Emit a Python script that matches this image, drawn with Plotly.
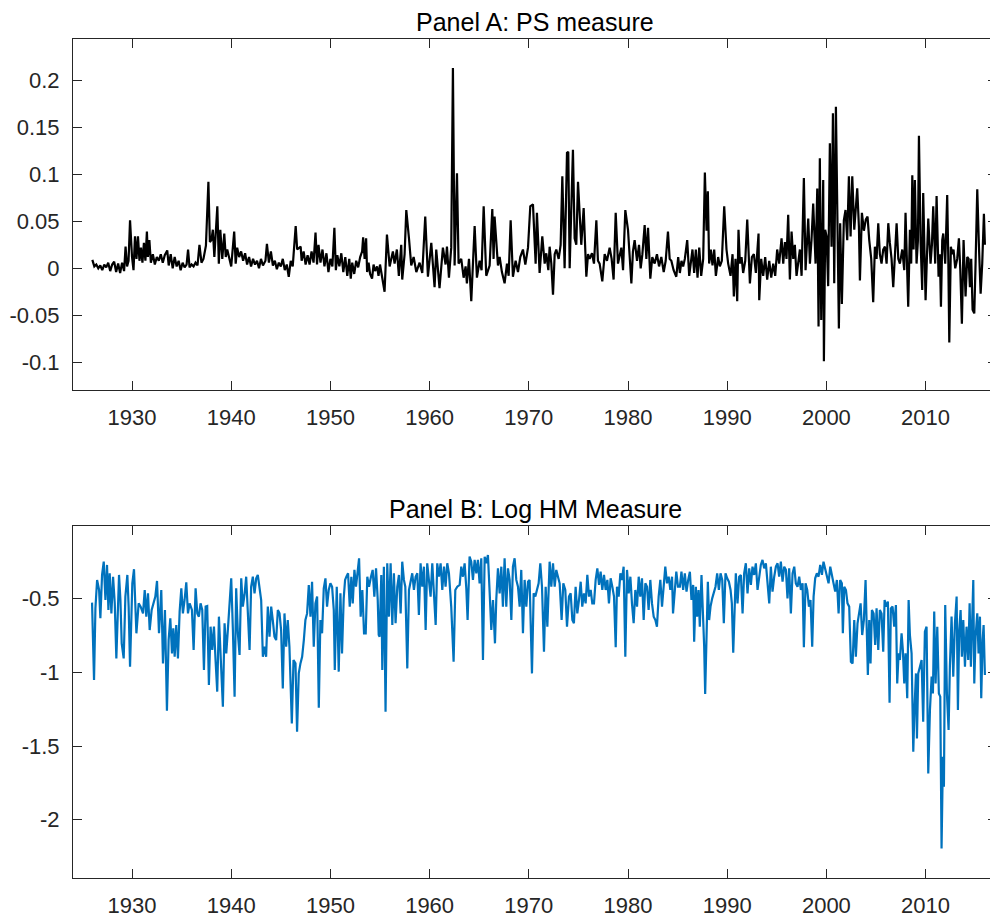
import plotly.graph_objects as go

# ---------------- Panel A: PS measure (year, value) ----------------
ps_years = [
 1926.0,1926.2,1926.4,1926.6,1926.8,1927.0,1927.2,1927.4,1927.6,1927.8,1928.0,1928.2,1928.4,1928.6,1928.8,1929.0,1929.2,1929.35,1929.5,1929.65,
 1929.8,1930.0,1930.15,1930.3,1930.45,1930.6,1930.75,1930.9,1931.05,1931.2,1931.35,1931.5,1931.6,1931.75,1931.9,1932.1,1932.3,1932.5,1932.7,1932.9,
 1933.1,1933.3,1933.55,1933.7,1933.9,1934.1,1934.3,1934.5,1934.7,1934.9,1935.1,1935.3,1935.5,1935.65,1935.8,1936.0,1936.2,1936.4,1936.6,1936.8,
 1937.0,1937.2,1937.45,1937.7,1937.85,1938.0,1938.15,1938.3,1938.6,1938.75,1938.9,1939.1,1939.3,1939.45,1939.6,1939.8,1940.0,1940.3,1940.45,1940.6,
 1940.8,1941.0,1941.2,1941.4,1941.6,1941.8,1942.0,1942.2,1942.4,1942.6,1942.8,1943.0,1943.2,1943.45,1943.6,1943.8,1944.0,1944.2,1944.4,1944.6,
 1944.8,1945.0,1945.2,1945.4,1945.6,1945.8,1946.0,1946.2,1946.5,1946.65,1947.0,1947.1,1947.3,1947.5,1947.7,1947.9,1948.1,1948.3,1948.5,1948.65,
 1948.8,1949.0,1949.2,1949.4,1949.6,1949.8,1950.0,1950.2,1950.4,1950.55,1950.7,1950.9,1951.1,1951.3,1951.5,1951.7,1951.9,1952.05,1952.2,1952.4,
 1952.6,1952.8,1953.0,1953.2,1953.3,1953.45,1953.6,1953.7,1953.85,1954.0,1954.2,1954.35,1954.5,1954.7,1954.85,1955.0,
 1955.46,1955.70,1955.97,1956.30,1956.47,1956.70,1956.90,1957.14,1957.24,1957.48,1957.65,1957.92,1958.15,1958.39,1958.66,1958.99,1959.26,1959.56,1959.83,1960.17,
 1960.50,1960.67,1961.00,1961.34,1961.61,1961.75,1961.95,1962.18,1962.35,1962.52,1962.76,1962.92,1963.19,1963.43,1963.63,1963.76,1963.97,1964.20,1964.37,1964.54,
 1964.77,1965.04,1965.24,1965.45,1965.71,1966.05,1966.32,1966.45,1966.55,1966.72,1966.89,1967.06,1967.29,1967.56,1967.80,1967.97,1968.17,1968.40,1968.67,1968.91,
 1969.14,1969.41,1969.65,1969.92,1970.15,1970.42,1970.69,1970.82,1971.09,1971.36,1971.60,1971.76,1971.97,1972.10,1972.27,1972.44,1972.61,1972.77,1973.01,1973.21,
 1973.38,1973.61,1973.85,1973.98,1974.12,1974.29,1974.45,1974.62,1974.79,1974.96,1975.13,1975.29,1975.53,1975.80,1975.97,1976.13,1976.37,1976.57,1976.81,1976.97,
 1977.14,1977.41,1977.65,1977.88,1978.15,1978.35,1978.55,1978.76,1978.99,1979.16,1979.33,1979.50,1979.73,1980.00,1980.17,1980.34,1980.50,1980.67,1980.91,1981.11,
 1981.28,1981.45,1981.68,1981.85,1982.02,1982.25,1982.45,1982.69,1982.92,1983.13,1983.36,1983.60,1983.80,1984.03,1984.20,1984.37,1984.60,1984.87,
 1985.06,1985.23,1985.39,1985.56,1985.73,1985.97,1986.17,1986.34,1986.50,1986.67,1986.84,1987.01,1987.18,1987.38,1987.58,1987.75,1987.92,1988.05,1988.18,1988.35,
 1988.52,1988.69,1988.86,1989.09,1989.26,1989.46,1989.70,1989.93,1990.10,1990.34,1990.54,1990.67,1990.84,1991.01,1991.14,1991.28,1991.45,1991.61,1991.82,1992.02,
 1992.15,1992.29,1992.49,1992.69,1992.89,1993.03,1993.16,1993.23,1993.43,1993.63,1993.83,1994.03,1994.24,1994.44,1994.64,1994.84,1995.04,1995.24,1995.48,1995.65,
 1995.82,1995.98,1996.15,1996.32,1996.49,1996.66,1996.82,1996.99,1997.16,1997.33,1997.50,1997.73,1997.90,1998.03,1998.17,1998.34,1998.50,1998.67,1998.91,1999.08,
 1999.21,1999.34,1999.48,1999.61,1999.68,1999.75,1999.88,2000.02,2000.18,2000.35,2000.52,2000.66,2000.79,2000.96,2001.09,2001.26,2001.39,2001.56,2001.76,2001.93,
 2002.10,2002.27,2002.44,2002.61,2002.81,2002.94,2003.11,2003.28,2003.38,2003.58,2003.78,2003.98,2004.15,2004.32,2004.52,2004.72,2004.89,2005.06,2005.23,2005.39,
 2005.56,2005.73,2005.90,2006.07,2006.24,2006.40,2006.57,2006.74,2006.91,2007.08,2007.25,2007.41,2007.65,2007.85,2007.98,2008.12,2008.25,2008.42,2008.55,2008.66,
 2008.79,2008.92,2009.09,2009.23,2009.33,2009.50,2009.66,2009.76,2009.90,2010.00,2010.13,2010.27,2010.50,2010.64,2010.77,2010.97,2011.11,2011.31,2011.44,2011.55,
 2011.68,2011.78,2011.98,2012.18,2012.29,2012.39,2012.55,2012.69,2012.82,2012.99,2013.19,2013.36,2013.50,2013.66,2013.83,2014.03,2014.20,2014.34,2014.47,2014.60,
 2014.74,2014.91,2015.04,2015.21,2015.38,2015.55,2015.71,2015.88,2015.98,
]
ps_values = [
 0.009,0.002,0.004,0.000,0.003,-0.002,0.004,0.001,0.006,-0.003,0.004,0.007,-0.004,0.005,-0.005,0.006,-0.003,0.023,0.002,0.008,
 0.051,0.012,-0.002,0.034,0.010,0.034,0.008,0.022,0.006,0.027,0.008,0.039,0.012,0.030,0.006,0.015,0.004,0.012,0.008,0.015,
 0.006,0.014,0.019,0.003,0.015,0.000,0.012,0.002,0.008,-0.002,0.006,0.001,0.004,0.020,0.001,0.004,0.002,0.006,0.003,0.025,
 0.006,0.010,0.024,0.092,0.028,0.030,0.041,0.012,0.066,0.005,0.041,0.010,0.037,0.012,0.020,0.010,0.002,0.039,0.005,0.022,
 0.012,0.018,0.008,0.016,0.004,0.012,0.002,0.010,0.004,0.008,0.000,0.010,0.003,0.008,0.026,0.006,0.018,0.003,0.008,-0.001,
 0.006,0.002,0.010,-0.002,0.004,-0.009,0.008,0.002,0.045,0.020,0.023,0.008,0.018,0.004,0.014,0.004,0.018,0.006,0.038,0.004,
 0.025,0.006,0.020,0.002,0.016,-0.004,0.010,0.002,0.043,-0.002,0.014,0.002,0.016,-0.004,0.012,-0.008,0.010,-0.011,0.006,-0.006,
 0.008,0.001,0.012,0.018,0.033,0.010,0.032,-0.004,0.006,-0.006,-0.011,0.004,-0.003,0.002,-0.008,0.004,
 -0.025,0.036,0.002,0.018,0.005,0.020,-0.008,0.025,-0.012,0.015,0.062,0.032,0.003,0.012,-0.004,0.006,-0.005,0.055,-0.009,0.027,
 -0.020,0.020,-0.021,0.022,0.004,0.023,-0.010,0.022,0.213,0.003,0.101,0.005,0.010,-0.010,0.002,-0.016,0.010,-0.035,0.000,0.045,
 -0.010,0.008,-0.002,0.066,-0.008,0.003,0.063,0.010,0.055,0.023,0.003,0.012,-0.004,-0.016,0.005,-0.008,0.051,-0.009,0.008,-0.004,
 0.012,0.020,0.004,0.022,0.066,0.068,0.005,0.059,-0.005,0.034,0.005,0.016,-0.002,0.023,0.005,-0.028,0.015,0.020,0.010,0.025,
 0.098,0.000,0.123,0.124,0.000,0.066,0.126,0.032,0.025,0.092,0.062,0.025,0.064,-0.009,0.015,0.010,0.016,0.005,0.051,0.008,
 0.005,-0.014,0.015,0.008,0.022,0.010,-0.012,0.059,0.005,0.014,0.022,-0.002,0.062,0.041,0.010,-0.016,0.018,0.030,0.008,0.025,
 0.000,0.015,0.046,0.010,0.043,-0.011,0.012,0.005,0.015,0.002,0.012,-0.004,0.008,0.039,0.010,0.008,-0.002,-0.009,
 0.012,-0.005,0.008,0.002,0.010,0.030,-0.008,0.008,0.020,-0.005,0.020,-0.010,0.022,-0.008,0.010,0.102,0.040,0.082,0.005,0.020,
 0.003,0.020,-0.008,0.012,0.002,0.008,0.066,0.020,0.005,-0.008,0.015,-0.030,0.010,-0.035,0.041,0.005,0.012,-0.005,0.008,0.052,
 0.010,-0.016,0.012,0.015,-0.005,0.015,0.037,-0.034,0.010,-0.008,0.012,-0.012,0.008,-0.010,0.005,-0.008,0.020,0.005,0.032,0.005,
 0.028,0.010,0.057,-0.012,0.039,0.010,0.025,-0.008,0.005,0.020,-0.008,0.096,-0.002,0.020,0.053,0.005,0.030,0.069,0.005,0.085,
 -0.062,0.117,-0.055,0.040,0.094,-0.099,0.041,0.034,-0.019,0.133,0.023,0.165,-0.016,0.172,0.041,-0.064,0.048,-0.038,0.051,0.062,
 0.030,0.098,0.034,0.098,0.041,0.062,0.085,0.044,-0.013,0.059,0.040,0.052,0.055,0.030,0.010,-0.036,0.023,0.010,0.048,0.015,
 0.005,0.020,0.023,0.005,0.048,0.027,0.010,-0.020,0.020,0.048,0.010,0.005,0.020,-0.002,0.059,0.010,-0.041,0.041,0.005,0.099,
 0.020,0.094,0.005,0.030,0.141,0.027,-0.023,0.080,0.005,-0.034,0.010,0.053,0.005,0.025,0.066,0.005,0.077,-0.009,0.015,-0.041,
 0.030,0.037,0.005,0.078,0.010,-0.079,0.023,0.015,0.020,0.000,0.010,0.032,-0.002,-0.059,0.030,-0.030,0.012,0.010,-0.020,0.010,
 -0.044,-0.048,0.005,0.084,0.023,-0.027,0.005,0.058,0.025,
]

# ---------------- Panel B: Log HM Measure (year, value) ----------------
hm_years = [
 1925.97,1926.17,1926.31,1926.48,1926.68,1926.81,1926.98,1927.15,1927.32,1927.48,1927.62,1927.75,1927.92,1928.09,1928.26,1928.42,1928.69,1928.83,1928.96,1929.16,
 1929.33,1929.53,1929.66,1929.80,1930.03,1930.20,1930.44,1930.67,1930.87,1931.11,1931.28,1931.44,1931.61,1931.78,1931.98,1932.18,1932.35,1932.52,1932.72,1932.95,
 1933.12,1933.32,1933.52,1933.69,1933.86,1934.03,1934.16,1934.30,1934.46,1934.63,1934.80,1934.97,1935.13,1935.30,1935.47,1935.64,1935.81,1936.04,1936.21,1936.41,
 1936.58,1936.74,1936.91,1937.08,1937.25,1937.42,1937.58,1937.75,1937.92,1938.09,1938.26,1938.42,1938.59,1938.76,1938.93,1939.16,1939.33,1939.50,1939.66,1939.83,
 1940.00,1940.17,1940.34,1940.50,1940.67,1940.84,1941.01,1941.17,1941.34,1941.51,1941.68,1941.85,1942.01,1942.18,1942.35,1942.52,1942.68,1942.85,1943.02,1943.19,
 1943.36,1943.52,1943.69,1943.86,1944.03,1944.19,1944.36,1944.53,1944.70,1944.87,1945.03,1945.20,1945.37,1945.54,1945.70,1945.87,1946.11,1946.28,1946.48,1946.64,
 1946.81,1946.98,1947.15,1947.32,1947.48,1947.65,1947.82,1947.99,1948.15,1948.32,1948.49,1948.66,1948.83,1948.99,1949.16,1949.33,1949.50,1949.66,1949.83,1950.00,
 1950.17,1950.34,1950.44,1950.64,1950.84,1951.01,1951.17,1951.34,1951.48,1951.61,1951.78,1951.95,1952.11,1952.25,1952.42,1952.58,1952.75,1952.89,1953.05,1953.22,
 1953.39,1953.56,1953.72,1953.89,1954.09,1954.26,1954.43,1954.60,1954.77,1954.87,
 1954.96,1955.13,1955.23,1955.39,1955.56,1955.73,1955.90,1956.07,1956.24,1956.40,1956.57,1956.74,1956.91,1957.08,1957.24,1957.41,1957.55,1957.75,1957.92,1958.08,
 1958.25,1958.42,1958.59,1958.76,1958.92,1959.09,1959.26,1959.43,1959.60,1959.76,1959.93,1960.10,1960.27,1960.44,1960.61,1960.77,1960.94,1961.11,1961.28,1961.45,
 1961.61,1961.78,1961.95,1962.18,1962.42,1962.59,1962.79,1963.03,1963.19,1963.36,1963.53,1963.70,1963.83,1964.03,1964.20,1964.37,1964.54,1964.71,1964.87,1965.04,
 1965.21,1965.38,1965.55,1965.71,1965.88,1966.05,1966.22,1966.39,1966.59,1966.72,1966.89,1967.06,1967.23,1967.39,1967.56,1967.73,1967.90,1968.07,1968.24,1968.40,
 1968.57,1968.74,1968.91,1969.08,1969.24,1969.41,1969.58,1969.75,1969.92,1970.08,1970.32,1970.49,1970.66,1970.82,1970.99,1971.16,1971.33,1971.53,1971.70,1971.87,
 1972.10,1972.27,1972.44,1972.61,1972.77,1972.94,1973.11,1973.31,1973.48,1973.68,1973.85,1974.05,1974.22,1974.39,1974.55,1974.72,1974.89,1975.06,1975.23,1975.39,
 1975.56,1975.73,1975.90,1976.07,1976.24,1976.40,1976.57,1976.74,1976.91,1977.08,1977.24,1977.41,1977.58,1977.75,1977.92,1978.08,1978.25,1978.42,1978.59,1978.76,
 1978.89,1979.06,1979.23,1979.39,1979.56,1979.73,1979.90,1980.07,1980.24,1980.40,1980.57,1980.74,1980.91,1981.08,1981.24,1981.41,1981.58,1981.75,1981.92,1982.08,
 1982.25,1982.42,1982.59,1982.76,1982.92,1983.09,1983.26,1983.43,1983.60,1983.76,1983.93,1984.10,1984.27,1984.44,1984.54,1984.71,1984.87,1985.04,
 1985.23,1985.39,1985.56,1985.73,1985.90,1986.07,1986.24,1986.40,1986.57,1986.67,1986.84,1986.97,1987.11,1987.24,1987.41,1987.58,1987.68,1987.78,1987.92,1988.05,
 1988.18,1988.32,1988.49,1988.66,1988.82,1988.99,1989.16,1989.33,1989.50,1989.66,1989.83,1990.00,1990.17,1990.34,1990.47,1990.61,1990.74,1990.87,1991.04,1991.21,
 1991.38,1991.55,1991.71,1991.88,1992.05,1992.22,1992.39,1992.55,1992.72,1992.89,1993.06,1993.23,1993.39,1993.56,1993.73,1993.90,1994.07,1994.24,1994.40,1994.57,
 1994.74,1994.91,1995.08,1995.24,1995.41,1995.58,1995.75,1995.92,1996.08,1996.25,1996.42,1996.59,1996.76,1996.92,1997.09,1997.26,1997.43,1997.60,1997.73,1997.90,
 1998.07,1998.24,1998.40,1998.57,1998.71,1998.87,1999.04,1999.21,1999.38,1999.55,1999.71,1999.88,2000.05,2000.22,2000.39,2000.55,2000.72,2000.89,2001.06,2001.23,
 2001.39,2001.56,2001.66,2001.80,2001.97,2002.13,2002.30,2002.47,2002.64,2002.81,2002.97,2003.14,2003.31,2003.45,2003.61,2003.78,2003.95,2004.08,2004.18,2004.32,
 2004.45,2004.59,2004.76,2004.92,2005.06,2005.23,2005.39,2005.56,2005.73,2005.87,2006.03,2006.20,2006.37,2006.50,2006.67,2006.84,2007.01,2007.14,2007.28,2007.41,
 2007.58,2007.71,2007.85,2007.98,2008.15,2008.29,2008.42,2008.59,2008.76,2008.89,2009.03,2009.13,2009.26,2009.43,2009.60,2009.76,2009.93,2010.10,2010.27,2010.44,
 2010.61,2010.74,2010.87,2011.01,2011.18,2011.34,2011.48,2011.61,2011.75,2011.85,2011.98,2012.15,2012.32,2012.45,2012.62,2012.79,2012.96,2013.13,2013.26,2013.39,
 2013.53,2013.66,2013.80,2013.97,2014.13,2014.30,2014.44,2014.57,2014.71,2014.81,2014.91,2015.04,2015.21,2015.34,2015.48,2015.61,2015.75,2015.85,2015.98,
]
hm_values = [
 -0.527,-1.052,-0.566,-0.373,-0.441,-0.633,-0.339,-0.249,-0.509,-0.271,-0.577,-0.328,-0.600,-0.351,-0.532,-0.905,-0.339,-0.509,-0.803,-0.905,
 -0.486,-0.339,-0.554,-0.962,-0.396,-0.300,-0.735,-0.532,-0.554,-0.600,-0.441,-0.622,-0.464,-0.713,-0.577,-0.532,-0.486,-0.380,-0.735,-0.441,
 -0.939,-0.577,-1.260,-0.781,-0.633,-0.871,-0.701,-0.894,-0.679,-0.905,-0.588,-0.430,-0.600,-0.509,-0.389,-0.600,-0.532,-0.577,-0.848,-0.430,
 -0.600,-0.622,-0.532,-0.577,-0.984,-0.554,-0.550,-1.086,-0.690,-0.848,-0.690,-0.916,-1.131,-0.622,-0.894,-1.233,-0.667,-0.871,-0.713,-0.520,
 -0.362,-0.713,-1.165,-0.430,-0.735,-0.882,-0.362,-0.554,-0.475,-0.351,-0.577,-0.848,-0.419,-0.351,-0.464,-0.362,-0.339,-0.441,-0.509,-0.894,
 -0.826,-0.894,-0.554,-0.758,-0.554,-0.645,-0.758,-0.781,-0.577,-0.600,-0.713,-1.109,-0.600,-0.826,-0.645,-0.826,-1.346,-0.916,-0.939,-1.403,
 -1.007,-0.939,-0.894,-0.781,-0.645,-0.600,-0.407,-0.622,-0.385,-0.826,-0.532,-0.486,-1.240,-0.645,-0.735,-0.430,-0.362,-0.554,-0.441,-0.396,
 -0.419,-0.577,-0.984,-0.419,-0.995,-0.464,-0.871,-0.498,-0.373,-0.351,-0.328,-0.554,-0.351,-0.532,-0.305,-0.419,-0.283,-0.226,-0.622,-0.441,
 -0.735,-0.735,-0.351,-0.419,-0.351,-0.305,-0.486,-0.294,-0.509,-0.747,
 -0.758,-0.339,-0.984,-0.283,-1.267,-0.260,-0.622,-0.260,-0.679,-0.328,-0.667,-0.419,-0.339,-0.600,-0.249,-0.373,-0.419,-0.973,-0.441,-0.373,
 -0.328,-0.441,-0.351,-0.328,-0.611,-0.260,-0.419,-0.283,-0.713,-0.260,-0.396,-0.486,-0.260,-0.509,-0.679,-0.260,-0.351,-0.260,-0.441,-0.283,
 -0.419,-0.260,-0.328,-0.554,-0.928,-0.441,-0.419,-0.407,-0.283,-0.351,-0.260,-0.430,-0.645,-0.215,-0.249,-0.373,-0.237,-0.328,-0.237,-0.396,
 -0.226,-0.916,-0.215,-0.260,-0.204,-0.452,-0.713,-0.509,-0.803,-0.509,-0.294,-0.464,-0.283,-0.554,-0.226,-0.554,-0.294,-0.373,-0.645,-0.283,
 -0.226,-0.373,-0.419,-0.554,-0.305,-0.735,-0.373,-0.554,-0.385,-0.373,-1.007,-0.464,-0.486,-0.441,-0.396,-0.260,-0.419,-0.860,-0.419,-0.690,
 -0.249,-0.419,-0.260,-0.419,-0.305,-0.351,-0.396,-0.645,-0.396,-0.441,-0.690,-0.486,-0.464,-0.645,-0.667,-0.419,-0.600,-0.509,-0.385,-0.554,
 -0.464,-0.532,-0.339,-0.486,-0.441,-0.532,-0.532,-0.373,-0.294,-0.407,-0.317,-0.441,-0.339,-0.441,-0.373,-0.532,-0.362,-0.419,-0.486,-0.830,
 -0.419,-0.486,-0.328,-0.373,-0.283,-0.894,-0.305,-0.464,-0.351,-0.532,-0.667,-0.441,-0.554,-0.351,-0.486,-0.362,-0.645,-0.396,-0.419,-0.577,
 -0.373,-0.532,-0.622,-0.645,-0.690,-0.486,-0.373,-0.554,-0.407,-0.283,-0.396,-0.351,-0.441,-0.351,-0.600,-0.419,-0.317,-0.419,
 -0.419,-0.317,-0.441,-0.328,-0.452,-0.373,-0.317,-0.509,-0.407,-0.792,-0.419,-0.622,-0.441,-0.690,-0.339,-0.645,-0.826,-1.147,-0.837,-0.385,
 -0.645,-0.554,-0.498,-0.464,-0.419,-0.328,-0.441,-0.328,-0.373,-0.667,-0.328,-0.362,-0.385,-0.441,-0.532,-0.866,-0.509,-0.328,-0.532,-0.351,
 -0.339,-0.600,-0.328,-0.260,-0.464,-0.294,-0.407,-0.283,-0.339,-0.260,-0.441,-0.362,-0.271,-0.237,-0.294,-0.260,-0.373,-0.532,-0.283,-0.452,
 -0.351,-0.283,-0.260,-0.351,-0.249,-0.385,-0.283,-0.305,-0.498,-0.294,-0.600,-0.328,-0.283,-0.396,-0.419,-0.351,-0.441,-0.396,-0.830,-0.396,
 -0.441,-0.554,-0.509,-0.826,-0.486,-0.362,-0.328,-0.351,-0.271,-0.339,-0.249,-0.305,-0.362,-0.396,-0.283,-0.328,-0.396,-0.452,-0.373,-0.600,
 -0.373,-0.396,-0.735,-0.419,-0.441,-0.532,-0.554,-0.928,-0.939,-0.645,-0.894,-0.667,-0.600,-0.532,-0.747,-0.645,-0.373,-0.848,-1.018,-0.645,
 -0.939,-0.577,-0.600,-0.814,-0.566,-0.848,-0.577,-0.600,-0.860,-0.509,-0.554,-0.520,-1.206,-0.566,-0.554,-0.690,-0.543,-1.075,-0.871,-0.916,
 -0.735,-0.848,-1.075,-0.871,-1.176,-0.509,-0.747,-0.871,-1.538,-1.233,-1.007,-1.448,-1.007,-0.962,-0.916,-1.335,-0.724,-0.690,-1.686,-1.256,
 -1.029,-1.143,-0.588,-1.075,-0.690,-1.143,-1.165,-2.195,-1.572,-1.776,-0.543,-1.143,-1.391,-0.962,-0.622,-1.029,-0.667,-0.486,-1.256,-0.713,
 -0.577,-0.894,-0.645,-0.962,-0.690,-0.916,-0.532,-0.962,-0.532,-0.373,-1.075,-0.758,-0.600,-0.871,-0.622,-1.176,-0.781,-0.679,-1.018,
]

x_ticks = [1930, 1940, 1950, 1960, 1970, 1980, 1990, 2000, 2010]
ps_ticks = [-0.1, -0.05, 0, 0.05, 0.1, 0.15, 0.2]
ps_tick_text = ["-0.1", "-0.05", "0", "0.05", "0.1", "0.15", "0.2"]
hm_ticks = [-2, -1.5, -1, -0.5]
hm_tick_text = ["-2", "-1.5", "-1", "-0.5"]

# The page body adds an 8px margin, so the figure is 8px smaller than the window.
W, H = 990, 911
FONT = "Liberation Sans, Arial, Helvetica, sans-serif"
AX = "#262626"

fig = go.Figure()
fig.add_trace(go.Scatter(x=ps_years, y=ps_values, mode="lines",
                         line=dict(color="black", width=2.2), xaxis="x", yaxis="y",
                         showlegend=False, hoverinfo="skip"))
fig.add_trace(go.Scatter(x=hm_years, y=hm_values, mode="lines",
                         line=dict(color="#0072BD", width=2.2), xaxis="x2", yaxis="y2",
                         showlegend=False, hoverinfo="skip"))

axis_common = dict(showgrid=False, zeroline=False, showline=True, linecolor=AX, linewidth=1,
                   mirror="ticks", ticks="inside", ticklen=9, tickcolor=AX, tickwidth=1,
                   tickfont=dict(family=FONT, size=22, color=AX))

def ydom(top_px, bot_px):
    return [1 - bot_px / H, 1 - top_px / H]

fig.update_layout(
    width=W, height=H,
    margin=dict(l=65, r=1, t=0, b=0),
    paper_bgcolor="white", plot_bgcolor="white",
    xaxis=dict(domain=[0, 1], range=[1924.05, 2017.2], tickvals=x_ticks, anchor="y",
               ticklabelstandoff=8, **axis_common),
    yaxis=dict(domain=ydom(31, 382), range=[-0.1295, 0.244], tickvals=ps_ticks, ticktext=ps_tick_text,
               anchor="x", ticklabelstandoff=8, **axis_common),
    xaxis2=dict(domain=[0, 1], range=[1924.05, 2017.2], tickvals=x_ticks, anchor="y2",
                ticklabelstandoff=8, **axis_common),
    yaxis2=dict(domain=ydom(517.7, 869.7), range=[-2.393, -0.005], tickvals=hm_ticks, ticktext=hm_tick_text,
                anchor="x2", ticklabelstandoff=8, **axis_common),
    annotations=[
        dict(text="Panel A: PS measure", x=0.5, xref="paper", y=1 - 14.5 / H, yref="paper",
             xanchor="center", yanchor="middle", showarrow=False,
             font=dict(family=FONT, size=25, color="black")),
        dict(text="Panel B: Log HM Measure", x=0.5, xref="paper", y=1 - 501 / H, yref="paper",
             xanchor="center", yanchor="middle", showarrow=False,
             font=dict(family=FONT, size=25, color="black")),
    ],
)

fig.write_html("out.html")
